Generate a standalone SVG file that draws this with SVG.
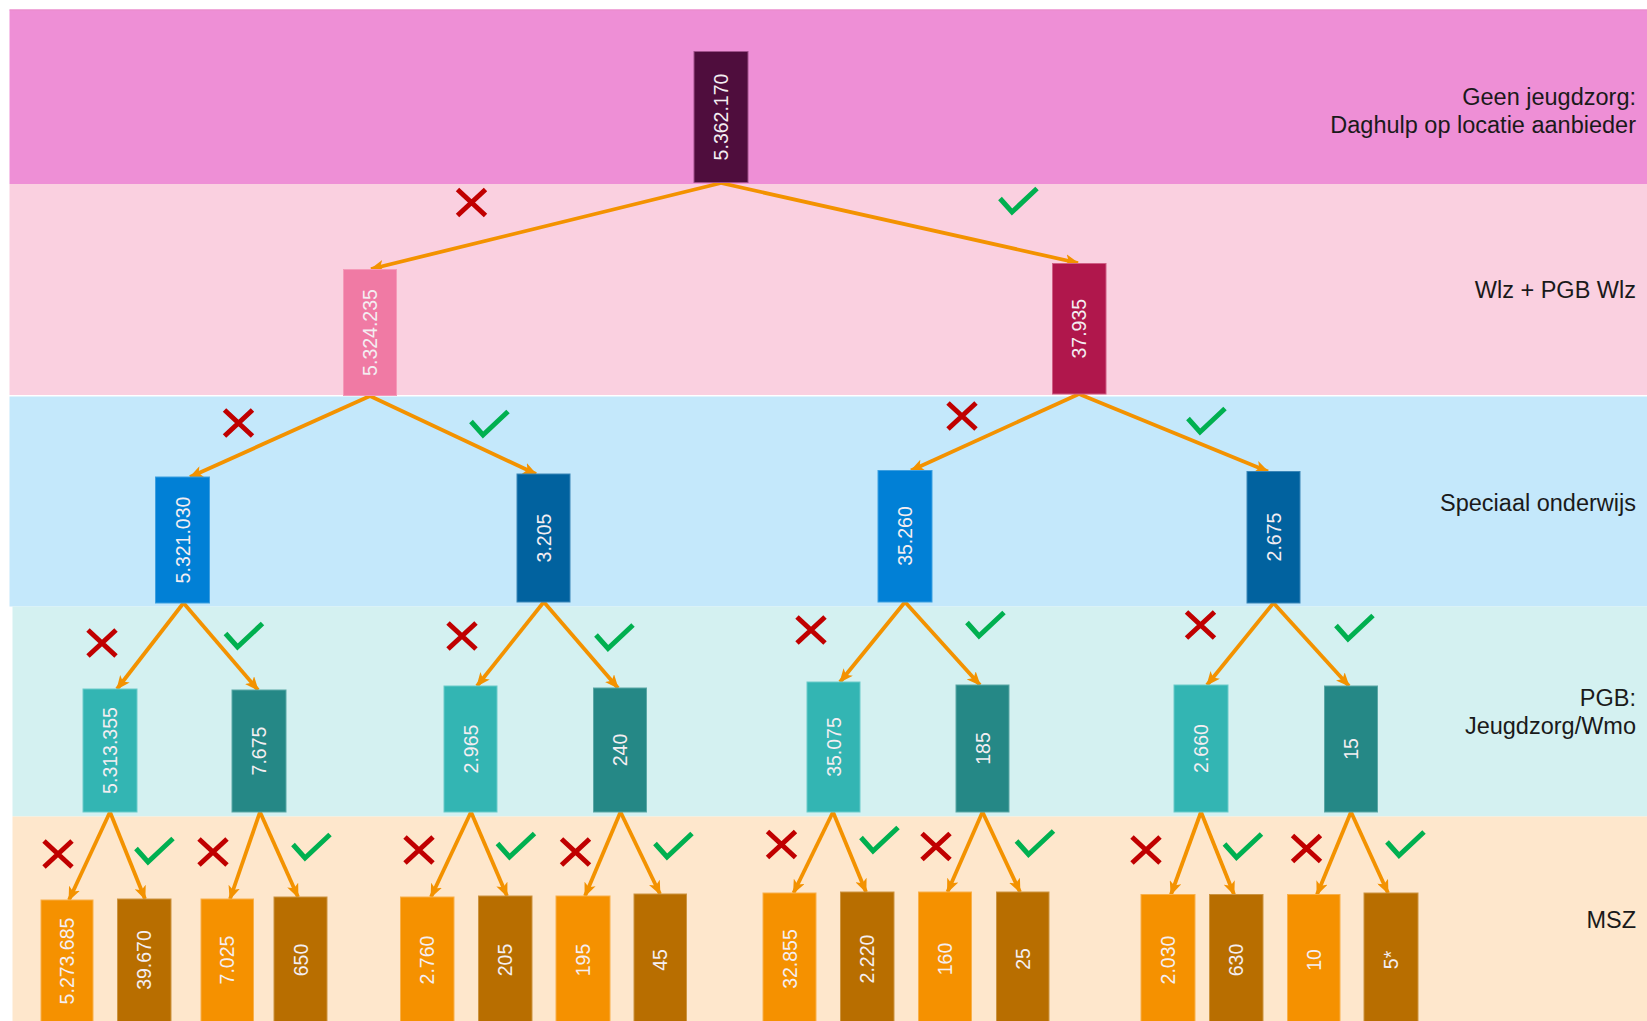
<svg xmlns="http://www.w3.org/2000/svg" xmlns:xlink="http://www.w3.org/1999/xlink" width="1647" height="1021" viewBox="0 0 1647 1021">
<style>
.lbl{font-family:"Liberation Sans",Arial,sans-serif;font-size:23.5px;fill:#1a1a1a;text-anchor:end}
.num{font-family:"Liberation Sans",Arial,sans-serif;font-size:19.5px;fill:#f4eef2;text-anchor:middle;dominant-baseline:central}
.edge{stroke:#f39200;stroke-width:3.8;fill:none;marker-end:url(#arr)}
.x{stroke:#c00000;stroke-width:5;fill:none}
.ck{stroke:#00b050;stroke-width:5;fill:none;stroke-linejoin:miter}
</style>
<defs>
<marker id="arr" viewBox="0 0 14 12" refX="13" refY="6" markerWidth="14" markerHeight="12" markerUnits="userSpaceOnUse" orient="auto">
<path d="M0,0 L14,6 L0,12 L3.5,6 z" fill="#f39200"/>
</marker>
<path id="xm" class="x" d="M-14,-13 L14,13 M14,-13 L-14,13"/>
<path id="cm" class="ck" d="M-18,-2.5 L-6,11 L19,-12.5"/>
</defs>
<g id="bands">
<rect x="9.5" y="9.5" width="1637.5" height="174.5" fill="#ee8fd6"/>
<rect x="9.5" y="9.5" width="1637.5" height="1" fill="#e98cc9"/>
<rect x="9.5" y="184" width="1637.5" height="211" fill="#fad0e0"/>
<rect x="9.5" y="396.5" width="1637.5" height="210" fill="#c4e8fb"/>
<rect x="12.5" y="606.5" width="1634.5" height="210" fill="#d4f1f1"/>
<rect x="12.5" y="816.5" width="1634.5" height="205" fill="#fee7cc"/>
</g>
<g id="labels">
<text class="lbl" x="1636" y="105">Geen jeugdzorg:</text>
<text class="lbl" x="1636" y="133">Daghulp op locatie aanbieder</text>
<text class="lbl" x="1636" y="298">Wlz + PGB Wlz</text>
<text class="lbl" x="1636" y="511">Speciaal onderwijs</text>
<text class="lbl" x="1636" y="706">PGB:</text>
<text class="lbl" x="1636" y="734">Jeugdzorg/Wmo</text>
<text class="lbl" x="1636" y="928">MSZ</text>
</g>
<g id="connectors">
<line class="edge" x1="721" y1="183" x2="371" y2="269"/>
<line class="edge" x1="721" y1="183" x2="1078" y2="263"/>
<line class="edge" x1="370" y1="396" x2="190" y2="477"/>
<line class="edge" x1="370" y1="396" x2="536" y2="474"/>
<line class="edge" x1="1079" y1="394" x2="911" y2="470.5"/>
<line class="edge" x1="1079" y1="394" x2="1268" y2="471.5"/>
<line class="edge" x1="183.5" y1="603" x2="117" y2="689"/>
<line class="edge" x1="183.5" y1="603" x2="258" y2="690"/>
<line class="edge" x1="543.8" y1="602" x2="477" y2="686"/>
<line class="edge" x1="543.8" y1="602" x2="618" y2="688"/>
<line class="edge" x1="905" y1="602" x2="840" y2="682"/>
<line class="edge" x1="905" y1="602" x2="980" y2="685"/>
<line class="edge" x1="1273.5" y1="603" x2="1207" y2="685"/>
<line class="edge" x1="1273.5" y1="603" x2="1349" y2="686"/>
<line class="edge" x1="110" y1="812" x2="69" y2="900"/>
<line class="edge" x1="110" y1="812" x2="145" y2="899"/>
<line class="edge" x1="260" y1="812" x2="230" y2="899"/>
<line class="edge" x1="260" y1="812" x2="298" y2="897"/>
<line class="edge" x1="471" y1="812" x2="431" y2="897"/>
<line class="edge" x1="471" y1="812" x2="507" y2="896"/>
<line class="edge" x1="620.5" y1="812" x2="585" y2="896"/>
<line class="edge" x1="620.5" y1="812" x2="660" y2="894"/>
<line class="edge" x1="833" y1="812" x2="793.5" y2="893"/>
<line class="edge" x1="833" y1="812" x2="866" y2="892"/>
<line class="edge" x1="982.5" y1="812" x2="947.5" y2="892"/>
<line class="edge" x1="982.5" y1="812" x2="1020" y2="892"/>
<line class="edge" x1="1201" y1="812" x2="1171" y2="894.5"/>
<line class="edge" x1="1201" y1="812" x2="1234" y2="894.5"/>
<line class="edge" x1="1351" y1="812" x2="1317" y2="894.5"/>
<line class="edge" x1="1351" y1="812" x2="1388" y2="893"/>
</g>
<g id="marks">
<use href="#xm" x="471.5" y="202.5"/><use href="#cm" x="1018" y="201"/>
<use href="#xm" x="238.5" y="423"/><use href="#cm" x="489" y="424"/>
<use href="#xm" x="962" y="416"/><use href="#cm" x="1206" y="421"/>
<use href="#xm" x="102" y="643"/><use href="#cm" x="243.5" y="636"/>
<use href="#xm" x="462" y="636"/><use href="#cm" x="614" y="637.5"/>
<use href="#xm" x="811" y="630"/><use href="#cm" x="985" y="625"/>
<use href="#xm" x="1200.5" y="625"/><use href="#cm" x="1354" y="628"/>
<use href="#xm" x="58" y="854"/><use href="#cm" x="154" y="851"/>
<use href="#xm" x="213" y="852"/><use href="#cm" x="311" y="847"/>
<use href="#xm" x="419" y="850"/><use href="#cm" x="515.5" y="846"/>
<use href="#xm" x="575.5" y="852"/><use href="#cm" x="673" y="846"/>
<use href="#xm" x="781.5" y="844.5"/><use href="#cm" x="879" y="840"/>
<use href="#xm" x="936" y="846.5"/><use href="#cm" x="1034.5" y="843.5"/>
<use href="#xm" x="1146" y="850"/><use href="#cm" x="1242.5" y="846.5"/>
<use href="#xm" x="1306.5" y="848.5"/><use href="#cm" x="1405" y="844.5"/>
</g>
<g id="n-root"><rect x="694" y="51.5" width="54" height="131" fill="#4f0d3d" stroke="#a0508a" stroke-width="1"/><text class="num" transform="translate(721,117) rotate(-90)">5.362.170</text></g>
<g id="n-a"><rect x="343.5" y="269.5" width="53" height="126" fill="#f07aa4" stroke="#f59ab9" stroke-width="1"/><text class="num" transform="translate(370,332.5) rotate(-90)">5.324.235</text></g>
<g id="n-b"><rect x="1052.5" y="263.5" width="53.5" height="130.5" fill="#b0174c" stroke="#cf5f85" stroke-width="1"/><text class="num" transform="translate(1079,328.7) rotate(-90)">37.935</text></g>
<g id="n-c"><rect x="155.5" y="477" width="54" height="126" fill="#0180d6" stroke="#3d9fe0" stroke-width="1"/><text class="num" transform="translate(182.5,540) rotate(-90)">5.321.030</text></g>
<g id="n-d"><rect x="517" y="474" width="53" height="128" fill="#01629f" stroke="#3a86b8" stroke-width="1"/><text class="num" transform="translate(543.5,538) rotate(-90)">3.205</text></g>
<g id="n-e"><rect x="878" y="470.5" width="54" height="131.5" fill="#0180d6" stroke="#3d9fe0" stroke-width="1"/><text class="num" transform="translate(905,536) rotate(-90)">35.260</text></g>
<g id="n-f"><rect x="1247" y="471.5" width="53" height="131.5" fill="#01629f" stroke="#3a86b8" stroke-width="1"/><text class="num" transform="translate(1273.5,537) rotate(-90)">2.675</text></g>
<g id="n-g"><rect x="83" y="689" width="54" height="123" fill="#33b5b3" stroke="#6bcbca" stroke-width="1"/><text class="num" transform="translate(110,750.5) rotate(-90)">5.313.355</text></g>
<g id="n-h"><rect x="232" y="690" width="54" height="122" fill="#258886" stroke="#5aa7a5" stroke-width="1"/><text class="num" transform="translate(259,751) rotate(-90)">7.675</text></g>
<g id="n-i"><rect x="444" y="686" width="53" height="126" fill="#33b5b3" stroke="#6bcbca" stroke-width="1"/><text class="num" transform="translate(470.5,749) rotate(-90)">2.965</text></g>
<g id="n-j"><rect x="593.5" y="688" width="53" height="124" fill="#258886" stroke="#5aa7a5" stroke-width="1"/><text class="num" transform="translate(620,750) rotate(-90)">240</text></g>
<g id="n-k"><rect x="807" y="682" width="53" height="130" fill="#33b5b3" stroke="#6bcbca" stroke-width="1"/><text class="num" transform="translate(833.5,747) rotate(-90)">35.075</text></g>
<g id="n-l"><rect x="956" y="685" width="53" height="127" fill="#258886" stroke="#5aa7a5" stroke-width="1"/><text class="num" transform="translate(982.5,748.5) rotate(-90)">185</text></g>
<g id="n-m"><rect x="1174" y="685" width="54" height="127" fill="#33b5b3" stroke="#6bcbca" stroke-width="1"/><text class="num" transform="translate(1201,748.5) rotate(-90)">2.660</text></g>
<g id="n-n"><rect x="1324.5" y="686" width="53" height="126" fill="#258886" stroke="#5aa7a5" stroke-width="1"/><text class="num" transform="translate(1351,749) rotate(-90)">15</text></g>
<g id="n-o1"><rect x="41" y="900" width="52" height="130" fill="#f59100" stroke="#f8b04a" stroke-width="1"/><text class="num" transform="translate(67,961) rotate(-90)">5.273.685</text></g>
<g id="n-o2"><rect x="117.5" y="899" width="53.5" height="130" fill="#b86e00" stroke="#cc9440" stroke-width="1"/><text class="num" transform="translate(144,960) rotate(-90)">39.670</text></g>
<g id="n-o3"><rect x="201" y="899" width="52.5" height="130" fill="#f59100" stroke="#f8b04a" stroke-width="1"/><text class="num" transform="translate(227,960) rotate(-90)">7.025</text></g>
<g id="n-o4"><rect x="274" y="897" width="53" height="130" fill="#b86e00" stroke="#cc9440" stroke-width="1"/><text class="num" transform="translate(300.5,960) rotate(-90)">650</text></g>
<g id="n-o5"><rect x="400.5" y="897" width="53.5" height="130" fill="#f59100" stroke="#f8b04a" stroke-width="1"/><text class="num" transform="translate(427,960) rotate(-90)">2.760</text></g>
<g id="n-o6"><rect x="478.5" y="896" width="53.5" height="130" fill="#b86e00" stroke="#cc9440" stroke-width="1"/><text class="num" transform="translate(505,960) rotate(-90)">205</text></g>
<g id="n-o7"><rect x="556" y="896" width="54" height="130" fill="#f59100" stroke="#f8b04a" stroke-width="1"/><text class="num" transform="translate(583,960) rotate(-90)">195</text></g>
<g id="n-o8"><rect x="634" y="894" width="52.5" height="132" fill="#b86e00" stroke="#cc9440" stroke-width="1"/><text class="num" transform="translate(660,960) rotate(-90)">45</text></g>
<g id="n-o9"><rect x="763" y="893" width="53" height="133" fill="#f59100" stroke="#f8b04a" stroke-width="1"/><text class="num" transform="translate(789.5,959) rotate(-90)">32.855</text></g>
<g id="n-o10"><rect x="840.5" y="892" width="53.5" height="134" fill="#b86e00" stroke="#cc9440" stroke-width="1"/><text class="num" transform="translate(867,959) rotate(-90)">2.220</text></g>
<g id="n-o11"><rect x="918.5" y="892" width="53" height="134" fill="#f59100" stroke="#f8b04a" stroke-width="1"/><text class="num" transform="translate(945,959) rotate(-90)">160</text></g>
<g id="n-o12"><rect x="996.5" y="892" width="52.5" height="134" fill="#b86e00" stroke="#cc9440" stroke-width="1"/><text class="num" transform="translate(1023,959) rotate(-90)">25</text></g>
<g id="n-o13"><rect x="1141" y="894.5" width="54" height="132" fill="#f59100" stroke="#f8b04a" stroke-width="1"/><text class="num" transform="translate(1168,960) rotate(-90)">2.030</text></g>
<g id="n-o14"><rect x="1209.5" y="894.5" width="53.5" height="132" fill="#b86e00" stroke="#cc9440" stroke-width="1"/><text class="num" transform="translate(1236,960) rotate(-90)">630</text></g>
<g id="n-o15"><rect x="1287.5" y="894.5" width="52.5" height="132" fill="#f59100" stroke="#f8b04a" stroke-width="1"/><text class="num" transform="translate(1314,960) rotate(-90)">10</text></g>
<g id="n-o16"><rect x="1364" y="893" width="54" height="133" fill="#b86e00" stroke="#cc9440" stroke-width="1"/><text class="num" transform="translate(1391,960) rotate(-90)">5*</text></g>
</svg>
